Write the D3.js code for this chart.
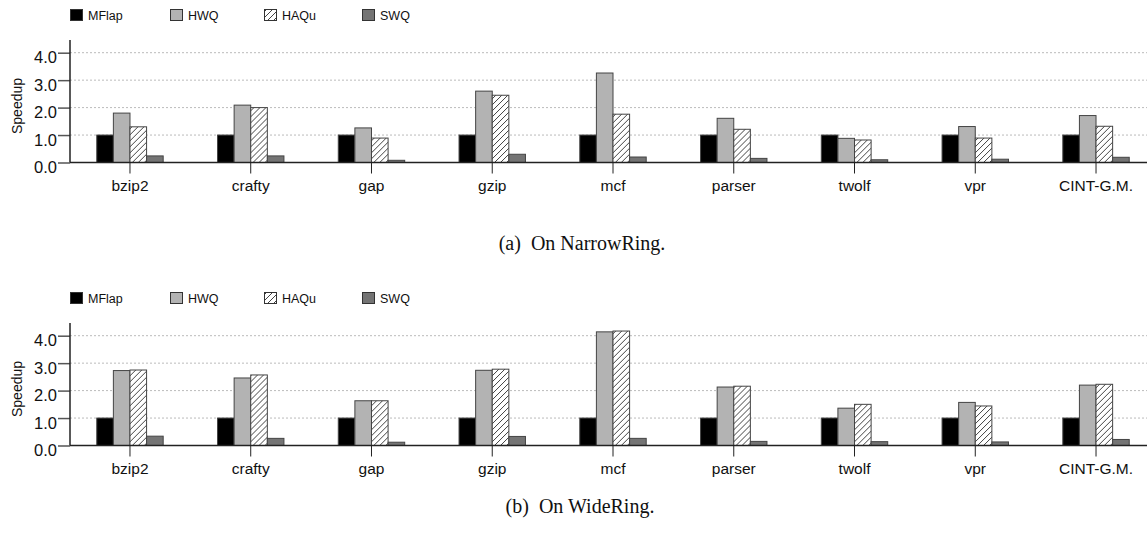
<!DOCTYPE html>
<html lang="en">
  <head>
    <meta charset="UTF-8" />
    <title>Speedup on NarrowRing and WideRing</title>
    <script src="https://cdn.jsdelivr.net/npm/d3@7"></script>
    <style>
      body {
        padding: 0;
        margin: 0;
        background: #fff;
      }
      svg {
        display: block;
      }
      .sans {
        font-family: "Liberation Sans", Arial, Helvetica, sans-serif;
        fill: #111;
      }
      .caption {
        font-family: "Liberation Serif", "Times New Roman", serif;
        fill: #111;
      }
    </style>
  </head>
  <body>
    <svg id="chart" width="1147" height="540"></svg>

    <script>
      const categories = ["bzip2", "crafty", "gap", "gzip", "mcf", "parser", "twolf", "vpr", "CINT-G.M."];
      const series = ["MFlap", "HWQ", "HAQu", "SWQ"];
      const yTicks = [0, 1, 2, 3, 4];

      // (a) NarrowRing
      const narrowMFlap = [1.0, 1.0, 1.0, 1.0, 1.0, 1.0, 1.0, 1.0, 1.0];
      const narrowHWQ = [1.8, 2.09, 1.26, 2.6, 3.26, 1.61, 0.88, 1.31, 1.71];
      const narrowHAQu = [1.3, 2.0, 0.89, 2.45, 1.76, 1.21, 0.82, 0.89, 1.32];
      const narrowSWQ = [0.24, 0.24, 0.08, 0.3, 0.2, 0.15, 0.1, 0.12, 0.19];

      // (b) WideRing
      const wideMFlap = [1.0, 1.0, 1.0, 1.0, 1.0, 1.0, 1.0, 1.0, 1.0];
      const wideHWQ = [2.73, 2.46, 1.63, 2.74, 4.14, 2.13, 1.36, 1.57, 2.2];
      const wideHAQu = [2.75, 2.57, 1.63, 2.78, 4.17, 2.16, 1.5, 1.44, 2.23];
      const wideSWQ = [0.34, 0.26, 0.12, 0.33, 0.26, 0.15, 0.14, 0.13, 0.22];

      const svg = d3.select("#chart");

      // hatch for HAQu
      svg
        .append("defs")
        .append("pattern")
        .attr("id", "hatch")
        .attr("patternUnits", "userSpaceOnUse")
        .attr("width", 6)
        .attr("height", 6)
        .call((p) => {
          p.append("rect").attr("width", 6).attr("height", 6).attr("fill", "#fff");
          p.append("path")
            .attr("d", "M0,6 L6,0 M-1.5,1.5 L1.5,-1.5 M4.5,7.5 L7.5,4.5")
            .attr("stroke", "#111")
            .attr("stroke-width", 0.8);
        });

      const fills = {
        MFlap: "#000",
        HWQ: "#b3b3b3",
        HAQu: "url(#hatch)",
        SWQ: "#747474",
      };

      const axisLeft = 70;
      const axisRight = 1147;

      const x0 = d3
        .scaleBand()
        .domain(categories)
        .range([69.6, 1156.4])
        .paddingInner(0.45)
        .paddingOuter(0.225);

      const x1 = d3.scaleBand().domain(series).range([0, x0.bandwidth()]);

      function drawPanel(top, values) {
        const g = svg.append("g").attr("transform", "translate(0," + top + ")");
        const y = d3.scaleLinear().domain([0, 4]).range([162.5, 52.7]);

        // legend
        const legendX = [70, 170, 264, 362];
        series.forEach((s, i) => {
          g.append("rect")
            .attr("x", legendX[i] + 0.5)
            .attr("y", 9.5)
            .attr("width", 12)
            .attr("height", 11)
            .attr("fill", fills[s])
            .attr("stroke", "#333")
            .attr("stroke-width", 1);
          g.append("text")
            .attr("class", "sans")
            .attr("x", legendX[i] + 18)
            .attr("y", 19.5)
            .style("font-size", "12.5px")
            .text(s);
        });

        // dotted grid
        g.selectAll(".grid")
          .data(yTicks.filter((d) => d > 0))
          .enter()
          .append("line")
          .attr("x1", axisLeft)
          .attr("x2", axisRight)
          .attr("y1", (d) => y(d))
          .attr("y2", (d) => y(d))
          .attr("stroke", "#bbb")
          .attr("stroke-width", 1)
          .attr("stroke-dasharray", "2,2");

        // bars
        const rows = categories.map((c, i) => ({
          cat: c,
          vals: series.map((s) => ({ s: s, v: values[s][i] })),
        }));

        g.selectAll(".grp")
          .data(rows)
          .enter()
          .append("g")
          .attr("transform", (d) => "translate(" + x0(d.cat) + ",0)")
          .selectAll("rect")
          .data((d) => d.vals)
          .enter()
          .append("rect")
          .attr("x", (d) => x1(d.s))
          .attr("y", (d) => y(d.v))
          .attr("width", x1.bandwidth())
          .attr("height", (d) => y(0) - y(d.v))
          .attr("fill", (d) => fills[d.s])
          .attr("stroke", "#444")
          .attr("stroke-width", 1);

        // x axis
        const xAxis = g
          .append("g")
          .attr("transform", "translate(0," + y(0) + ")")
          .call(d3.axisBottom(x0).tickSize(11).tickPadding(6).tickSizeOuter(0));
        xAxis.select(".domain").remove();
        xAxis.selectAll(".tick line").attr("stroke", "#222");
        xAxis
          .selectAll(".tick text")
          .attr("class", "sans")
          .style("font-size", "15.5px")
          .attr("dy", "0.71em");
        g.append("line")
          .attr("x1", axisLeft)
          .attr("x2", axisRight)
          .attr("y1", y(0))
          .attr("y2", y(0))
          .attr("stroke", "#222")
          .attr("stroke-width", 1.5);

        // y axis
        const yAxis = g
          .append("g")
          .attr("transform", "translate(" + axisLeft + ",0)")
          .call(
            d3
              .axisLeft(y)
              .tickValues(yTicks)
              .tickFormat(d3.format(".1f"))
              .tickSize(12)
              .tickPadding(1)
          );
        yAxis.select(".domain").remove();
        yAxis.selectAll(".tick line").attr("stroke", "#555").attr("stroke-width", 1.5);
        yAxis
          .selectAll(".tick text")
          .attr("class", "sans")
          .style("font-size", "16.5px")
          .attr("dy", "0.62em");
        g.append("line")
          .attr("x1", axisLeft)
          .attr("x2", axisLeft)
          .attr("y1", 40)
          .attr("y2", y(0))
          .attr("stroke", "#222")
          .attr("stroke-width", 1.5);

        g.append("text")
          .attr("class", "sans")
          .attr("transform", "translate(22,106) rotate(-90)")
          .attr("text-anchor", "middle")
          .style("font-size", "14px")
          .text("Speedup");

        return g;
      }

      drawPanel(0, { MFlap: narrowMFlap, HWQ: narrowHWQ, HAQu: narrowHAQu, SWQ: narrowSWQ });
      drawPanel(283, { MFlap: wideMFlap, HWQ: wideHWQ, HAQu: wideHAQu, SWQ: wideSWQ });

      svg
        .append("text")
        .attr("class", "caption")
        .attr("x", 582)
        .attr("y", 250)
        .attr("text-anchor", "middle")
        .style("font-size", "20px")
        .attr("xml:space", "preserve")
        .text("(a)  On NarrowRing.");

      svg
        .append("text")
        .attr("class", "caption")
        .attr("x", 580)
        .attr("y", 513)
        .attr("text-anchor", "middle")
        .style("font-size", "20px")
        .attr("xml:space", "preserve")
        .text("(b)  On WideRing.");
    </script>
  </body>
</html>
